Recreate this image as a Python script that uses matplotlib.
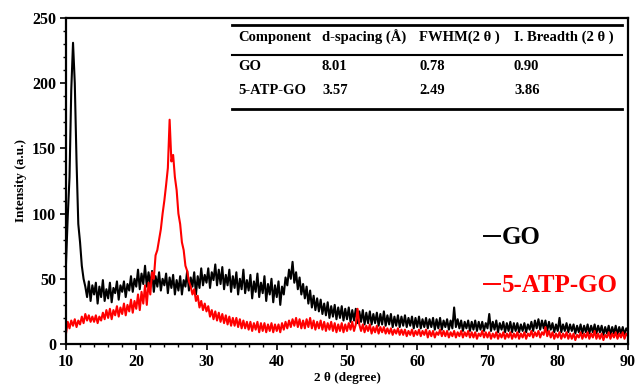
import numpy as np
import matplotlib
matplotlib.use("Agg")
import matplotlib.pyplot as plt
from matplotlib.lines import Line2D

# ---- data (2θ from 10 to 90, step 0.25) ----
theta_start, theta_end, theta_step = 10.0, 90.0, 0.25

go_values = [
    62, 98, 128, 195, 231, 200, 140, 92,
    78, 60, 50, 44, 36, 48, 33, 45,
    38, 47, 31, 44, 36, 49, 33, 42,
    35, 47, 32, 43, 39, 48, 34, 45,
    40, 48, 36, 46, 41, 52, 40, 50,
    44, 57, 42, 54, 46, 60, 44, 55,
    45, 56, 40, 52, 44, 55, 41, 50,
    45, 54, 39, 51, 43, 53, 38, 49,
    41, 52, 38, 49, 44, 56, 41, 51,
    44, 55, 38, 52, 43, 58, 45, 53,
    47, 58, 43, 55, 49, 61, 45, 57,
    46, 59, 42, 53, 45, 57, 40, 52,
    43, 55, 38, 50, 42, 57, 39, 49,
    41, 53, 35, 48, 40, 54, 36, 47,
    39, 52, 33, 46, 38, 50, 32, 45,
    36, 48, 30, 44, 38, 51, 45, 57,
    50, 63, 47, 55, 42, 51, 38, 46,
    35, 44, 31, 41, 28, 37, 26, 35,
    25, 34, 23, 31, 22, 32, 20, 29,
    21, 30, 19, 28, 20, 29, 18, 27,
    19, 28, 17, 26, 18, 27, 16, 25,
    17, 26, 15, 24, 16, 25, 15, 23,
    16, 24, 14, 23, 15, 25, 14, 22,
    15, 23, 13, 21, 14, 22, 13, 21,
    14, 22, 13, 20, 14, 21, 12, 20,
    13, 21, 12, 19, 13, 20, 12, 19,
    13, 20, 11, 19, 12, 20, 11, 18,
    13, 19, 11, 18, 12, 28, 13, 19,
    12, 18, 10, 17, 12, 18, 10, 17,
    11, 18, 10, 17, 11, 17, 10, 16,
    12, 23, 10, 17, 11, 18, 9, 16,
    11, 17, 9, 16, 10, 17, 9, 16,
    10, 16, 9, 15, 10, 16, 9, 15,
    11, 17, 10, 18, 12, 19, 11, 18,
    12, 18, 10, 17, 11, 16, 9, 15,
    10, 20, 9, 15, 10, 16, 9, 15,
    10, 15, 8, 14, 9, 15, 8, 14,
    9, 15, 8, 14, 9, 15, 8, 14,
    9, 14, 7, 13, 8, 14, 7, 13,
    8, 14, 7, 13, 8, 13, 7, 12,
    10,
]

atp_values = [
    8, 17, 12, 18, 14, 19, 13, 18,
    15, 21, 16, 23, 18, 22, 17, 21,
    17, 22, 16, 21, 18, 24, 19, 26,
    20, 27, 19, 26, 22, 29, 21, 28,
    23, 31, 22, 30, 25, 34, 24, 33,
    27, 38, 26, 40, 31, 45, 30, 47,
    38, 55, 50, 68, 72, 80, 88, 100,
    110, 122, 135, 172, 140, 145, 128, 118,
    100, 92, 78, 72, 60, 56, 48, 44,
    38, 42, 33, 37, 28, 33, 26, 31,
    25, 29, 21, 26, 19, 25, 18, 24,
    17, 23, 16, 22, 15, 21, 14, 20,
    14, 20, 13, 19, 12, 18, 12, 17,
    11, 17, 10, 16, 11, 17, 9, 16,
    10, 16, 9, 15, 10, 16, 9, 15,
    10, 15, 9, 16, 11, 17, 12, 18,
    13, 19, 14, 20, 13, 19, 12, 18,
    12, 19, 13, 20, 12, 18, 11, 17,
    12, 18, 11, 17, 10, 16, 11, 17,
    10, 16, 9, 15, 10, 16, 9, 15,
    10, 16, 11, 17, 10, 15, 27, 15,
    10, 15, 9, 14, 10, 15, 8, 13,
    9, 14, 8, 13, 9, 13, 8, 12,
    8, 12, 7, 11, 8, 12, 7, 11,
    7, 11, 6, 10, 7, 11, 6, 10,
    7, 11, 6, 10, 7, 11, 5, 10,
    6, 10, 5, 9, 7, 11, 6, 10,
    6, 10, 5, 9, 6, 10, 5, 9,
    6, 10, 5, 9, 6, 10, 5, 9,
    5, 9, 4, 8, 6, 10, 5, 9,
    5, 9, 4, 8, 5, 9, 4, 8,
    5, 9, 4, 8, 5, 9, 4, 8,
    5, 9, 4, 8, 5, 9, 4, 8,
    6, 10, 5, 9, 6, 10, 5, 9,
    7, 13, 6, 10, 5, 9, 4, 8,
    5, 9, 4, 8, 5, 9, 4, 8,
    4, 8, 3, 7, 5, 9, 4, 8,
    5, 9, 4, 8, 5, 10, 4, 8,
    4, 8, 3, 7, 5, 9, 4, 8,
    5, 9, 4, 8, 5, 9, 4, 8,
    6,
]

series_labels = ["GO", "5-ATP-GO"]
series_colors = ["black", "red"]

table_header = ["Component", "d-spacing (Å)", "FWHM(2 θ )", "I. Breadth (2 θ )"]
table_rows = [
    ["GO", "8.01", "0.78", "0.90"],
    ["5-ATP-GO", "3.57", "2.49", "3.86"],
]

# ---- figure ----
plt.rcParams["font.family"] = ["Liberation Serif", "DejaVu Serif"]
plt.rcParams["font.weight"] = "bold"

W, H = 636, 388
fig = plt.figure(figsize=(W / 100, H / 100), dpi=100)
ax = fig.add_axes([66 / W, 1 - 344 / H, (628 - 66) / W, (344 - 18) / H])

theta = np.arange(len(go_values)) * theta_step + theta_start
ax.plot(theta, go_values, color=series_colors[0], lw=1.5)
ax.plot(theta, atp_values, color=series_colors[1], lw=1.5)

ax.set_xlim(10, 90)
ax.set_ylim(0, 250)
ax.set_xticks(np.arange(10, 91, 10))
ax.set_yticks(np.arange(0, 251, 50))
ax.set_xticks(np.arange(10, 91, 2), minor=True)
ax.set_yticks(np.arange(0, 251, 10), minor=True)
ax.tick_params(which="major", direction="out", length=4, width=1.2,
               labelsize=11.5, pad=3)
ax.tick_params(which="minor", direction="out", length=2.5, width=1.0)
for lab in ax.get_xticklabels() + ax.get_yticklabels():
    lab.set_fontweight("bold")
for s in ax.spines.values():
    s.set_linewidth(1.6)

ax.set_xlabel("2 θ (degree)", fontsize=9.5, fontweight="bold", labelpad=2)
ax.set_ylabel("Intensity (a.u.)", fontsize=9.5, fontweight="bold", labelpad=4)

# ---- legend text ----
def fx(px):
    return px / W

def fy(py):
    return 1 - py / H

legend_y = [236, 284]
for lbl, col, ly in zip(series_labels, series_colors, legend_y):
    fig.add_artist(Line2D([fx(484), fx(500)], [fy(ly), fy(ly)],
                          color=col, lw=1.4))
    fig.text(fx(502), fy(ly + 1), lbl, color=col,
             fontsize=18, fontweight="bold", va="center", ha="left")

# ---- inset table ----
col_x = [238, 322, 419, 514]
row_y = [37, 66, 91]
for cx, txt in zip(col_x, table_header):
    fig.text(fx(cx), fy(row_y[0]), txt, fontsize=10.5, fontweight="bold",
             va="center", ha="left")
for r, row in enumerate(table_rows):
    for cx, txt in zip(col_x, row):
        fig.text(fx(cx), fy(row_y[r + 1]), txt, fontsize=10.5, fontweight="bold",
                 va="center", ha="left")
for ly, lw in [(25, 2.0), (55, 1.5), (109, 2.0)]:
    fig.add_artist(Line2D([fx(232), fx(622)], [fy(ly), fy(ly)],
                          color="black", lw=lw))

fig.savefig("out.png", dpi=100)
